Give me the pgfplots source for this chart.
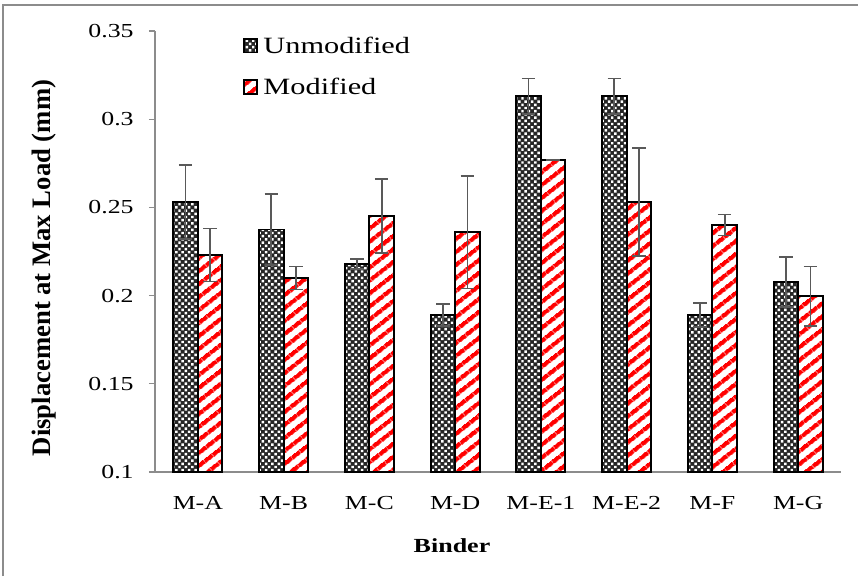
\documentclass[border=0pt]{standalone}
\usepackage{fontspec}
\setmainfont{Liberation Serif}[FakeStretch=1.3]
\newfontfamily\ylabfont{Liberation Serif}
\usepackage{pgfplots}
\pgfplotsset{compat=1.18}
\usepackage{pgfplotstable}
\usetikzlibrary{patterns.meta}

\pgfplotstableread{
x u ue m me
0 0.2530 0.0210 0.2230 0.0150
1 0.2375 0.0200 0.2100 0.0065
2 0.2180 0.0028 0.2450 0.0210
3 0.1890 0.0063 0.2360 0.0320
4 0.3130 0.0100 0.2770 0.0000
5 0.3130 0.0100 0.2530 0.0305
6 0.1890 0.0070 0.2400 0.0060
7 0.2076 0.0142 0.1997 0.0168
}\datatable

\begin{document}
\begin{tikzpicture}
\useasboundingbox (0,0) rectangle (643.5pt,432pt);
\draw[black!45, line width=1.1pt] (2.25pt,0pt) -- (2.25pt,428.25pt) -- (643.5pt,428.25pt);
\begin{axis}[
  at={(116.25pt,78pt)}, anchor=south west,
  scale only axis, width=514.5pt, height=330.75pt,
  xmin=-0.5, xmax=7.5, ymin=0.1, ymax=0.35,
  axis lines*=left,
  axis line style={black!45, line width=0.8pt},
  tick style={black!45, line width=0.8pt},
  tick align=outside,
  ytick={0.1,0.15,0.2,0.25,0.3,0.35},
  yticklabels={0.1,0.15,0.2,0.25,0.3,0.35},
  major tick length=4.5pt,
  xtick={0,...,7},
  xticklabels={M-A,M-B,M-C,M-D,M-E-1,M-E-2,M-F,M-G},
  x tick style={draw=none},
  extra x ticks={-0.5,0.5,1.5,2.5,3.5,4.5,5.5,6.5,7.5},
  extra x tick labels={},
  extra x tick style={tick style={draw=black!45, line width=0.8pt}, major tick length=5pt},
  ticklabel style={font=\fontsize{14.9}{17}\selectfont, text=black},
  yticklabel style={xshift=-8pt},
  xticklabel style={yshift=-10pt},
  xlabel={\textbf{Binder}},
  xlabel style={at={(axis description cs:0.433,-0.168)}, anchor=center, font=\fontsize{15}{18}\selectfont},
  ylabel={\ylabfont\bfseries Displacement at Max Load (mm)},
  ylabel style={at={(axis description cs:-0.162,0.4626)}, anchor=center, font=\fontsize{20}{24}\selectfont},
  ybar=0pt, bar width=18.4pt,
  legend style={at={(axis description cs:0.122,1.0)}, anchor=north west, draw=none, fill=none,
    font=\fontsize{17.5}{20}\selectfont, row sep=13pt},
  legend cell align=left,
  legend image code/.code={\draw[#1] (0pt,-5pt) rectangle (10pt,5pt);},
  error bars/error bar style={black!65, line width=1.3pt},
  error bars/error mark options={rotate=90, black!65, line width=1.3pt, mark size=5pt},
]
\addplot[draw=black, line width=1.4pt, preaction={fill=black!85},
  pattern={Dots[distance=3.4pt, radius=1.3pt, angle=45]}, pattern color=white,
  error bars/.cd, y dir=both, y explicit]
  table[x=x, y=u, y error=ue] {\datatable};
\addlegendentry{\hspace{2pt}Unmodified}
\addplot[draw=black, line width=1.4pt, preaction={fill=white},
  pattern={Lines[angle=38, distance=7.4pt, line width=3.3pt]}, pattern color=red,
  error bars/.cd, y dir=both, y explicit]
  table[x=x, y=m, y error=me] {\datatable};
\addlegendentry{\hspace{2pt}Modified}
\end{axis}
\end{tikzpicture}
\end{document}
